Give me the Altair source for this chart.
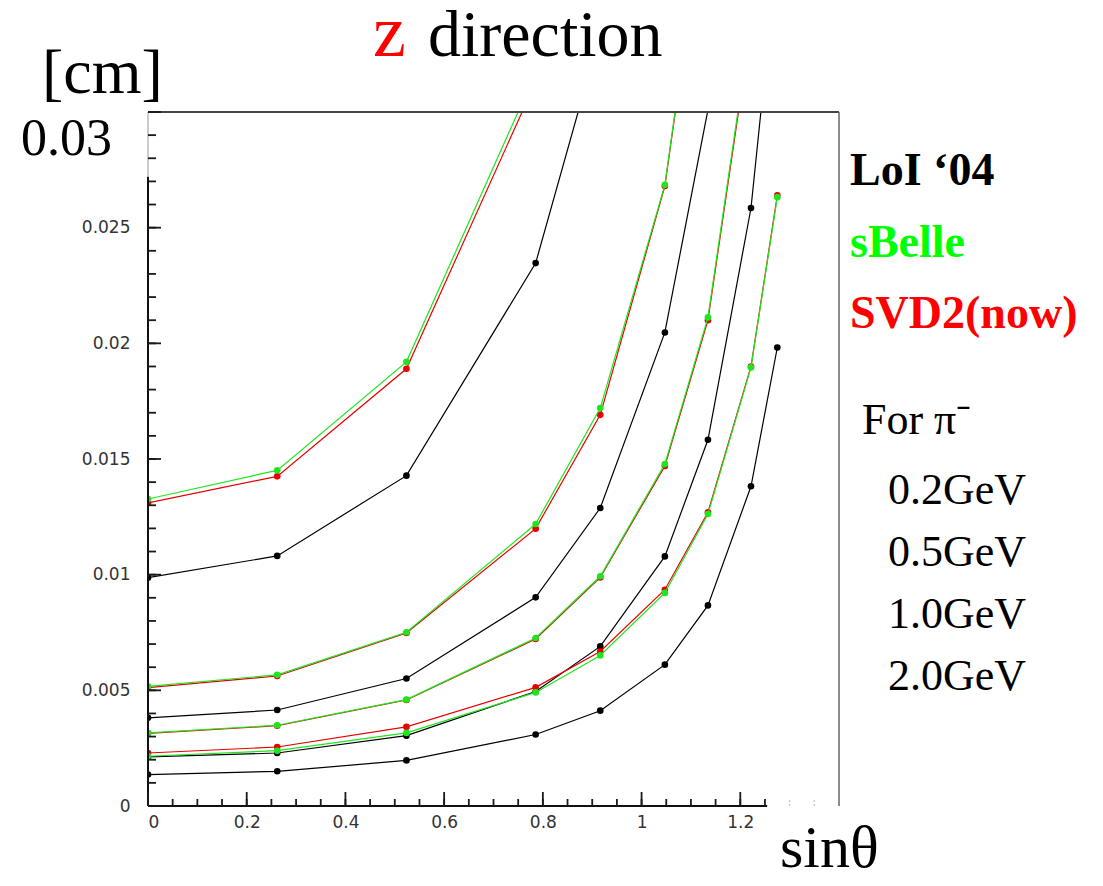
import altair as alt
import pandas as pd

# polar angle (rad) of the measured points
theta = [0.0, 0.2618, 0.5236, 0.7854, 0.9163, 1.0472, 1.1345, 1.2217, 1.2750]

# impact-parameter resolution in z [cm]
loi_02 = [0.00987, 0.01081, 0.01428, 0.02347, 0.0334]
svd_02 = [0.01310, 0.01425, 0.01890, 0.0313]
sb_02 = [0.01327, 0.01451, 0.01920, 0.0317]

loi_05 = [0.00381, 0.00415, 0.00551, 0.00902, 0.01288, 0.02047, 0.0301]
svd_05 = [0.00512, 0.00562, 0.00748, 0.01199, 0.01691, 0.02680, 0.0400]
sb_05 = [0.00517, 0.00567, 0.00751, 0.01219, 0.01720, 0.02685, 0.0402]

loi_10 = [0.00212, 0.00229, 0.00304, 0.00495, 0.00690, 0.01079, 0.01583, 0.02585, 0.0369]
svd_10 = [0.00314, 0.00347, 0.00458, 0.00722, 0.00988, 0.01470, 0.02100, 0.0337]
sb_10 = [0.00316, 0.00349, 0.00460, 0.00726, 0.00993, 0.01478, 0.02112, 0.0339]

loi_20 = [0.00136, 0.00150, 0.00197, 0.00309, 0.00412, 0.00611, 0.00867, 0.01382, 0.01982]
svd_20 = [0.00229, 0.00255, 0.00342, 0.00513, 0.00668, 0.00935, 0.01270, 0.01900, 0.02640]
sb_20 = [0.00215, 0.00239, 0.00316, 0.00491, 0.00651, 0.00921, 0.01262, 0.01896, 0.02632]

detectors = ["LoI '04", "SVD2(now)", "sBelle"]
det_colors = ["#000000", "#e80000", "#1ee61e"]
series = [
    ("LoI '04", "0.2GeV", loi_02), ("LoI '04", "0.5GeV", loi_05),
    ("LoI '04", "1.0GeV", loi_10), ("LoI '04", "2.0GeV", loi_20),
    ("SVD2(now)", "0.2GeV", svd_02), ("SVD2(now)", "0.5GeV", svd_05),
    ("SVD2(now)", "1.0GeV", svd_10), ("SVD2(now)", "2.0GeV", svd_20),
    ("sBelle", "0.2GeV", sb_02), ("sBelle", "0.5GeV", sb_05),
    ("sBelle", "1.0GeV", sb_10), ("sBelle", "2.0GeV", sb_20),
]

x_labels = [0, 0.2, 0.4, 0.6, 0.8, 1, 1.2]
y_labels = [0, 0.005, 0.01, 0.015, 0.02, 0.025]
x_minor = [round(i * 0.05, 2) for i in range(26)]
x_faint = [1.3, 1.35]
y_minor = [round(i * 0.001, 3) for i in range(31)]
y_major = [0, 0.005, 0.01, 0.015, 0.02, 0.025, 0.03]
x_major = [0, 0.2, 0.4, 0.6, 0.8, 1.0, 1.2]

rows = []
for det, mom, vals in series:
    for i, v in enumerate(vals):
        rows.append({"det": det, "mom": mom, "sid": det + mom, "theta": theta[i], "v": v, "ord": i})
df = pd.DataFrame(rows)

XD = [0, 1.4]
YD = [0, 0.03]
xs = alt.Scale(domain=XD, nice=False, zero=False)
ys = alt.Scale(domain=YD, nice=False, zero=False)
cs = alt.Scale(domain=detectors, range=det_colors)

lab = dict(labelFont="DejaVu Sans", labelFontSize=17, labelColor="#333333",
           ticks=False, domain=False, grid=False, title=None, format="~g")
x_axis = alt.Axis(values=x_labels, labelPadding=8, **lab)
y_axis = alt.Axis(values=y_labels, labelPadding=18, **lab)


def X(field):
    return alt.X(field, scale=xs, axis=x_axis)


def Y(field):
    return alt.Y(field, scale=ys, axis=y_axis)


layers = []
for i, det in enumerate(detectors):
    sub = df[df.det == det]
    base = alt.Chart(sub)
    layers.append(base.mark_line(clip=True, strokeWidth=1.2).encode(
        x=X("theta:Q"), y=Y("v:Q"),
        color=alt.Color("det:N", scale=cs, legend=None),
        detail="sid:N", order="ord:Q"))
    layers.append(base.mark_circle(clip=True, size=44, opacity=1).encode(
        x=X("theta:Q"), y=Y("v:Q"),
        color=alt.Color("det:N", scale=cs, legend=None)))

# tick marks pointing into the plot (segments in data units)
tick_rows = []
for v in y_minor:
    tick_rows.append({"theta": 0.0, "t2": 8 / 493.6, "v": v, "v2": v})
for v in y_major:
    tick_rows.append({"theta": 0.0, "t2": 13 / 493.6, "v": v, "v2": v})
for t in x_minor:
    tick_rows.append({"theta": t, "t2": t, "v": 0.0, "v2": 7 / 23133})
for t in x_major:
    tick_rows.append({"theta": t, "t2": t, "v": 0.0, "v2": 14 / 23133})
ticks_df = pd.DataFrame(tick_rows)
faint_df = pd.DataFrame({"theta": x_faint, "t2": x_faint,
                         "v": [0.0] * len(x_faint), "v2": [7 / 23133] * len(x_faint)})

ticks = alt.Chart(ticks_df).mark_rule(color="#1a1a1a", strokeWidth=1.8).encode(
    x=X("theta:Q"), x2="t2:Q", y=Y("v:Q"), y2="v2:Q")
faint = alt.Chart(faint_df).mark_rule(color="#cccccc", strokeWidth=1.5, strokeDash=[2, 2]).encode(
    x=X("theta:Q"), x2="t2:Q", y=Y("v:Q"), y2="v2:Q")

frame_df = pd.DataFrame([
    {"theta": 0.0, "t2": 1.4, "v": 0.03, "v2": 0.03, "c": "#444444", "w": 2.0},
    {"theta": 1.4, "t2": 1.4, "v": 0.0, "v2": 0.03, "c": "#666666", "w": 1.5},
    {"theta": 0.0, "t2": 0.0, "v": 0.0, "v2": 0.0272, "c": "#111111", "w": 2.0},
    {"theta": 0.0, "t2": 0.0, "v": 0.0272, "v2": 0.03, "c": "#aaaaaa", "w": 1.2},
    {"theta": 0.0, "t2": 1.2545, "v": 0.0, "v2": 0.0, "c": "#111111", "w": 2.0},
])
frame = alt.Chart(frame_df).mark_rule().encode(
    x=X("theta:Q"), x2="t2:Q",
    y=Y("v:Q"), y2="v2:Q",
    color=alt.Color("c:N", scale=None),
    strokeWidth=alt.StrokeWidth("w:Q", scale=None))


def txt(s, x, y, size, color="black", weight="normal", font="Liberation Serif"):
    return alt.Chart(pd.DataFrame({"s": [s]})).mark_text(
        align="left", baseline="alphabetic", font=font, fontSize=size,
        fontWeight=weight, color=color, clip=False).encode(
        text="s:N", x=alt.value(x), y=alt.value(y))


texts = [
    txt("z", 225, -56, 74, color="#ff0000"),
    txt("direction", 280, -56, 66),
    txt("[cm]", -106, -19, 64),
    txt("0.03", -127, 43, 52),
    txt("sin\u03b8", 632, 755, 60),
    txt("LoI \u201804", 702, 73, 46, weight="bold"),
    txt("sBelle", 702, 145, 46, color="#00ff00", weight="bold"),
    txt("SVD2(now)", 702, 216, 46, color="#ff0000", weight="bold"),
    txt("For \u03c0\u207b", 714, 322, 44),
    txt("0.2GeV", 740, 392, 44),
    txt("0.5GeV", 740, 454, 44),
    txt("1.0GeV", 740, 516, 44),
    txt("2.0GeV", 740, 578, 44),
]

chart = alt.layer(*layers, frame, ticks, faint, *texts).properties(
    width=691, height=694,
    padding={"left": 148, "top": 112, "right": 264, "bottom": 80},
    autosize=alt.AutoSizeParams(type="none"),
    background="white",
).configure_view(strokeWidth=0)

chart.save("out.html", embed_options={"renderer": "svg", "actions": False})
